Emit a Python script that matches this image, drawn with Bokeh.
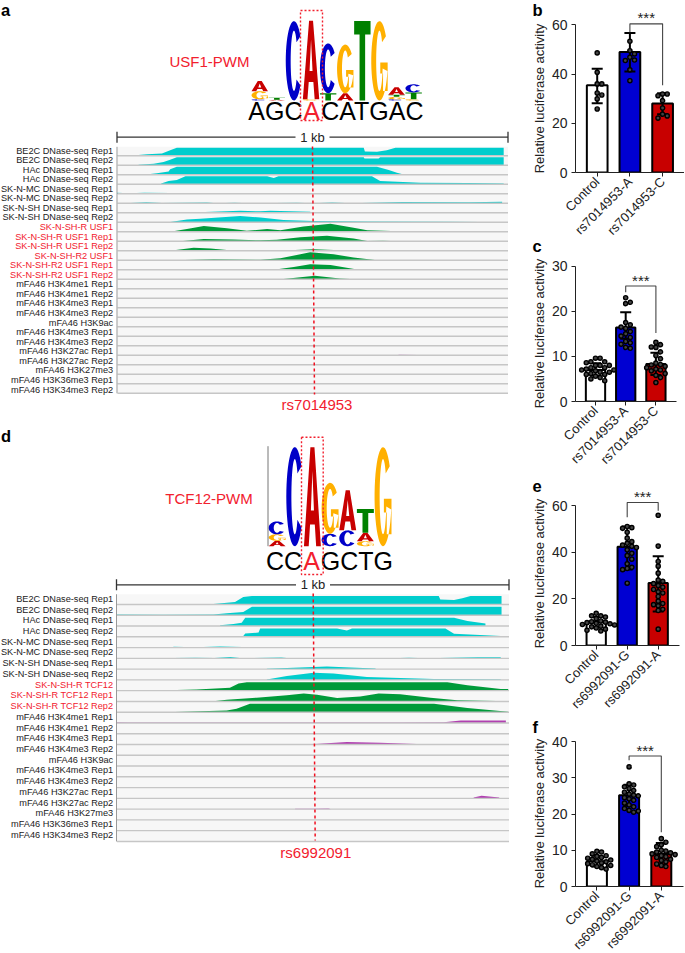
import math
from bokeh.plotting import figure
from bokeh.core.properties import value
from bokeh.embed import file_html
from bokeh.resources import INLINE

FONT = "Liberation Sans"
RED = "#f2202e"
TEAL = "#00cdcd"
GREEN = "#009a3a"
PURPLE = "#b040b0"
LETTER_COLORS = {"A": "#c80000", "C": "#0000c8", "G": "#ffb000", "T": "#008000"}
Y_TITLE = "Relative luciferase activity"

# ---------- sequence logos: stacks from the bottom, heights in bits ----------
USF1_LOGO = [
    [("C", .03), ("G", .2), ("A", .25)],
    [("A", .02), ("T", .05)],
    [("C", 1.96)],
    [("G", .03), ("A", 1.94)],
    [("T", .18), ("C", 1.23)],
    [("A", .18), ("G", 1.2)],
    [("T", 1.96)],
    [("G", 1.96)],
    [("C", .03), ("G", .06), ("T", .05), ("A", .19)],
    [("G", .03), ("T", .17), ("C", .2)],
]
TCF12_LOGO = [
    [("A", .11), ("G", .13), ("C", .26)],
    [("C", 2.0)],
    [("A", 2.0)],
    [("C", .25), ("G", 1.03)],
    [("C", .32), ("A", .81)],
    [("G", .1), ("A", .17), ("T", .48)],
    [("G", 2.0)],
]

# ---------- track labels ----------
A_LABELS = ["BE2C DNase-seq Rep1", "BE2C DNase-seq Rep2", "HAc DNase-seq Rep1", "HAc DNase-seq Rep2",
            "SK-N-MC DNase-seq Rep1", "SK-N-MC DNase-seq Rep2", "SK-N-SH DNase-seq Rep1", "SK-N-SH DNase-seq Rep2",
            "SK-N-SH-R USF1", "SK-N-SH-R USF1 Rep1", "SK-N-SH-R USF1 Rep2", "SK-N-SH-R2 USF1",
            "SK-N-SH-R2 USF1 Rep1", "SK-N-SH-R2 USF1 Rep2",
            "mFA46 H3K4me1 Rep1", "mFA46 H3K4me1 Rep2", "mFA46 H3K4me3 Rep1", "mFA46 H3K4me3 Rep2", "mFA46 H3K9ac",
            "mFA46 H3K4me3 Rep1", "mFA46 H3K4me3 Rep2", "mFA46 H3K27ac Rep1", "mFA46 H3K27ac Rep2", "mFA46 H3K27me3",
            "mFA46 H3K36me3 Rep1", "mFA46 H3K34me3 Rep2"]
D_LABELS = ["BE2C DNase-seq Rep1", "BE2C DNase-seq Rep2", "HAc DNase-seq Rep1", "HAc DNase-seq Rep2",
            "SK-N-MC DNase-seq Rep1", "SK-N-MC DNase-seq Rep2", "SK-N-SH DNase-seq Rep1", "SK-N-SH DNase-seq Rep2",
            "SK-N-SH-R TCF12", "SK-N-SH-R TCF12 Rep1", "SK-N-SH-R TCF12 Rep2",
            "mFA46 H3K4me1 Rep1", "mFA46 H3K4me1 Rep2", "mFA46 H3K4me3 Rep1", "mFA46 H3K4me3 Rep2", "mFA46 H3K9ac",
            "mFA46 H3K4me3 Rep1", "mFA46 H3K4me3 Rep2", "mFA46 H3K27ac Rep1", "mFA46 H3K27ac Rep2", "mFA46 H3K27me3",
            "mFA46 H3K36me3 Rep1", "mFA46 H3K34me3 Rep2"]

# ---------- track profiles: {track index: (colour name, [(bp, signal 0-1), ...])} ----------
A_TRACKS = {
    0: ("teal", [(0, .03), (55, .1), (77, .2), (115, .3), (136, .7), (153, 1), (631, 1), (634, .55), (665, .5), (690, .7), (712, 1), (989, 1)]),
    1: ("teal", [(55, .08), (94, .2), (119, .4), (136, .7), (153, 1), (631, 1), (633, .85), (669, .85), (673, 1), (989, 1)]),
    2: ("teal", [(74, .05), (102, .2), (132, .4), (136, .7), (153, 1), (665, 1), (695, .6), (716, .25), (733, .05), (793, .05), (820, .1), (870, .05), (930, .1), (985, .05)]),
    3: ("teal", [(113, .1), (132, .4), (153, .55), (175, 1), (384, 1), (401, .8), (413, 1), (652, 1), (673, .4), (776, .2), (895, .15), (989, .1)]),
    4: ("teal", [(0, .12), (30, .06), (70, .12), (136, .1), (145, .01), (480, .01), (490, .08), (510, .01), (560, .01), (570, .1), (590, .01), (830, .01), (840, .1), (900, .05), (920, .01)]),
    5: ("teal", [(0, .02), (35, .05), (75, .12), (115, .05), (230, .1), (255, .01), (300, .08), (340, .01), (460, .08), (500, .01), (550, .1), (600, .01), (730, .15), (900, .12), (985, .2)]),
    6: ("teal", [(190, .03), (315, .25), (367, .18), (392, .25), (494, .12), (497, .01)]),
    7: ("teal", [(136, .05), (179, .35), (213, .45), (315, .8), (367, .6), (426, .3), (503, .15), (640, .1), (850, .08), (930, .05)]),
    8: ("green", [(136, .02), (179, .35), (222, .72), (281, .45), (332, .12), (384, .35), (418, .18), (477, .65), (546, 1), (605, .5), (640, .18), (742, .05), (857, .03)]),
    9: ("green", [(162, .02), (222, .3), (298, .22), (367, .12), (409, .18), (469, .5), (537, .7), (605, .35), (640, .05), (680, .06), (720, .01), (790, .05), (860, .03)]),
    10: ("green", [(141, .05), (196, .37), (239, .3), (281, .1), (358, .03), (440, .08), (503, .2), (554, .1), (631, .1), (640, .01)]),
    11: ("green", [(149, .02), (247, .12), (367, .06), (418, .25), (494, 1), (554, .75), (605, .35), (665, .02)]),
    12: ("green", [(401, .01), (452, .35), (494, .7), (546, .6), (614, .05)]),
    13: ("green", [(170, .05), (341, .05), (345, .01), (422, .02), (426, .05), (506, .45), (570, .1), (596, .03)]),
    14: ("purple", [(644, .03), (700, .1), (921, .1), (980, .03)]),
    16: ("purple", [(315, .03), (409, .08), (494, .1), (529, .05), (592, .03)]),
    21: ("purple", [(720, .06), (770, .05), (818, .04), (830, .01), (904, .01), (910, .05), (921, .01)]),
}
D_TRACKS = {
    0: ("teal", [(145, .02), (247, .05), (302, .3), (323, .9), (345, 1), (821, 1), (825, .6), (860, .55), (881, .75), (902, 1), (981, 1)]),
    1: ("teal", [(0, .08), (119, .05), (247, .08), (281, .25), (323, .4), (345, 1), (981, 1)]),
    2: ("teal", [(264, .1), (298, .25), (319, .4), (328, 1), (860, 1), (894, .6), (940, .3)]),
    3: ("teal", [(0, .02), (323, .1), (328, .4), (362, .5), (366, 1), (562, 1), (587, .75), (600, 1), (838, 1), (860, .35), (979, .1)]),
    4: ("teal", [(145, .1), (200, .05), (264, .12), (320, .08), (335, .01), (760, .01), (770, .07), (810, .01), (900, .05), (979, .05)]),
    5: ("teal", [(145, .03), (200, .08), (250, .05), (290, .15), (320, .01), (420, .1), (440, .01), (610, .05), (700, .01), (745, .08), (790, .01), (920, .12), (979, .12)]),
    6: ("teal", [(383, .05), (536, .3), (596, .2), (660, .08)]),
    7: ("teal", [(383, .05), (434, .45), (502, .85), (553, .75), (638, .35), (809, .12), (979, .05)]),
    8: ("green", [(0, .02), (128, .05), (204, .15), (289, .35), (311, .85), (332, 1), (843, 1), (894, .65), (979, .2), (998, .2)]),
    9: ("green", [(247, .02), (281, .2), (357, .45), (434, .75), (477, .95), (511, .8), (562, .4), (621, .6), (668, .95), (723, .85), (800, .45), (868, .15), (1000, .03)]),
    10: ("green", [(149, .03), (213, .1), (281, .2), (306, .4), (340, 1), (809, 1), (894, .5), (998, .05)]),
    11: ("purple", [(0, .1), (30, .05), (680, .05), (720, .05), (834, .1), (877, .3), (992, .3)]),
    12: ("purple", [(155, .05), (165, .01), (220, .1), (245, .01), (920, .08), (1000, .05)]),
    13: ("purple", [(506, .05), (587, .3), (672, .2), (783, .03)]),
    18: ("purple", [(910, .1), (930, .3), (975, .1)]),
    19: ("purple", [(455, .05), (500, .05), (540, .08), (545, .01)]),
}

# ---------- bar charts ----------
B_CATS = ["Control", "rs7014953-A", "rs7014953-C"]
B_MEAN = [35.5, 49, 28]
B_LOW = [28.1, 41, 23.7]
B_HIGH = [42.2, 56.7, 32.2]
B_POINTS = [
    [48.6, 40.7, 36, 36, 32.3, 31.5, 29.9, 25.8],
    [53.3, 49.5, 48.2, 46.8, 45.7, 45.5, 41.7, 37.3],
    [31.9, 31.9, 31.2, 29.2, 26.2, 23.7, 23, 22.1],
]
B_BRACKET = (60.4, 57, 35.5)

C_CATS = B_CATS
C_MEAN = [7, 16.4, 8.3]
C_LOW = [5.7, 13.9, 5.9]
C_HIGH = [8.5, 19.8, 10.8]
C_POINTS = [
    [9.6, 9.6, 8.8, 8.8, 8.6, 8, 8, 8, 7.5, 7.5, 7.2, 7, 7, 6.8, 6.5, 6.5, 6.2, 6, 6, 5.6, 5.3, 5, 4.6],
    [23, 22, 21.7, 17.5, 17, 16.5, 16.2, 15.5, 15, 14.5, 14.2, 13.3, 13, 12.7, 12, 11.8],
    [13.1, 12.6, 12.1, 12, 11, 10.2, 9.5, 8.5, 8.2, 8.1, 7.8, 7.5, 7.2, 7, 6.8, 6.2, 5.8, 5.3, 4.2],
]
C_BRACKET = (25.6, 24.2, 15.2)

E_CATS = ["Control", "rs6992091-G", "rs6992091-A"]
E_MEAN = [10, 42.3, 26.8]
E_LOW = [7.8, 32.6, 14.6]
E_HIGH = [12.2, 51, 38.3]
E_POINTS = [
    [13.8, 12.7, 12.7, 12.2, 11.5, 10.5, 10.2, 10, 9.8, 9.5, 9.3, 9, 8.8, 8.3, 8, 7.5, 7, 6.5, 6.2],
    [51, 50.5, 50.2, 48.5, 46, 44.5, 43.8, 43, 42.5, 42, 41, 39.5, 38.5, 37, 35, 33.5, 33, 32.5, 26.7],
    [55.8, 42.6, 36, 34, 31, 28, 27.5, 26.5, 25.7, 25, 24, 23, 22.5, 21, 19, 18, 17.5, 17, 15.5, 15, 7],
]
E_BRACKET = (61.3, 55, 57.8)

F_CATS = E_CATS
F_MEAN = [7, 25.2, 9]
F_LOW = [5.5, 22.3, 6]
F_HIGH = [8.5, 28.1, 12]
F_POINTS = [
    [9.7, 9.5, 9, 8.5, 8.3, 8, 7.8, 7.5, 7.3, 7, 6.8, 6.5, 6.3, 6, 5.8, 5.5, 5.2, 4.8],
    [33, 28.3, 28, 27.5, 27, 26.5, 26, 25.5, 25.2, 25, 24.5, 24.2, 23.8, 23, 22.5, 22, 21.5, 21, 20.8, 20.5],
    [13.2, 12.2, 11.5, 11, 10, 9.8, 9.5, 9.3, 9, 8.8, 8.5, 8.2, 8, 7.5, 7.2, 6.8, 6.2, 5.8, 5.5],
]
F_BRACKET = (36, 34.8, 15)

BAR_COLORS = ["white", "#0000d2", "#c80000"]


# ---------- logo letter outlines in a unit box ----------
def arc(rx, ry, a0, a1, n=40):
    return [(.5 + rx * math.cos(math.radians(a0 + (a1 - a0) * i / n)),
             .5 + ry * math.sin(math.radians(a0 + (a1 - a0) * i / n))) for i in range(n + 1)]


def letter_parts(ch):
    if ch == "A":
        return [[[(0, 0), (.28, 0), (.36, .22), (.64, .22), (.72, 0), (1, 0), (.62, 1), (.38, 1)],
                 [(.41, .36), (.59, .36), (.5, .76)]]]
    if ch == "T":
        return [[[(0, 1), (1, 1), (1, .83), (.67, .83), (.67, 0), (.33, 0), (.33, .83), (0, .83)]]]
    if ch == "C":
        return [[arc(.5, .5, 38, 322) + arc(.2, .38, 322, 38)]]
    # G
    return [[arc(.5, .5, 38, 345) + arc(.2, .38, 345, 38)],
            [[(.55, .48), (1, .48), (1, .12), (.72, .12), (.72, .34), (.55, .34)]]]


def draw_logo(p, logo, x0, col_w, y_base, px_per_bit):
    xs, ys, colors = [], [], []
    for c, stack in enumerate(logo):
        y = y_base
        for ch, bits in stack:
            h = bits * px_per_bit
            mx, my = [], []
            for part in letter_parts(ch):
                mx.append([[x0 + (c + .02 + .96 * u) * col_w for u, _ in ring] for ring in part])
                my.append([[y - v * h for _, v in ring] for ring in part])
            xs.append(mx)
            ys.append(my)
            colors.append(LETTER_COLORS[ch])
            y -= h
    p.multi_polygons(xs, ys, fill_color=colors, line_color=None)


def txt(p, x, y, s, size, color="#222222", align="center", baseline="middle", style="normal", angle=0):
    p.text([x], [y], text=[s], text_font=value(FONT), text_font_size=f"{size}px", text_color=color,
           text_align=align, text_baseline=baseline, text_font_style=style, angle=angle)


def place(left, top):
    return {"position": "absolute", "left": f"{left}px", "top": f"{top}px"}


def genome_panel(y_top, height, labels, tracks, logo, logo_x0, logo_col, logo_base, logo_pxbit, name, name_xc, name_y,
                 seq, seq_y, seq_size, box, scale_y, scale_text_x, first_base, step, track_h, x_left, x_right,
                 label_first, label_step, dash, snp, snp_x, snp_y):
    p = figure(width=685, height=height, x_range=(0, 685), y_range=(y_top + height, y_top),
               toolbar_location=None, output_backend="svg", min_border=0, outline_line_color=None,
               styles=place(0, y_top))
    p.axis.visible = False
    p.grid.visible = False

    draw_logo(p, logo, logo_x0, logo_col, logo_base, logo_pxbit)
    txt(p, name_xc, name_y, name, 15, RED)

    # consensus sequence, with the SNP base in red
    txt(p, seq[1], seq_y, seq[0], seq_size, "black", "right")
    txt(p, seq[2], seq_y, "A", seq_size, RED, "center")
    txt(p, seq[3], seq_y, seq[4], seq_size, "black", "left")

    bx0, bx1, by0, by1 = box
    p.line([bx0, bx1, bx1, bx0, bx0], [by0, by0, by1, by1, by0], line_color=RED, line_width=1.4, line_dash="2 2")

    # scale bar
    for xa, xb in ((x_left, scale_text_x - 17), (scale_text_x + 17, x_right)):
        p.line([xa, xb], [scale_y, scale_y], line_color="#333333", line_width=1.3)
    for xa in (x_left, x_right):
        p.line([xa, xa], [scale_y - 5.5, scale_y + 5.5], line_color="#333333", line_width=1.3)
    txt(p, scale_text_x, scale_y, "1 kb", 13)

    # tracks
    n = len(labels)
    bases = [first_base + i * step for i in range(n)]
    top = first_base - step + .5
    p.quad(left=[x_left + .5], right=[x_right], top=[top], bottom=[bases[-1]], fill_color="#f7f7f7", line_color=None)
    colors = {"teal": TEAL, "green": GREEN, "purple": PURPLE}
    for i, (cname, prof) in tracks.items():
        xs = [x_left + b / 1000 * (x_right - x_left) for b, _ in prof]
        ys = [bases[i] - s * track_h for _, s in prof]
        p.patch([xs[0]] + xs + [xs[-1]], [bases[i]] + ys + [bases[i]], fill_color=colors[cname], line_color=None)
    for b in bases:
        p.line([x_left + .5, x_right], [b, b], line_color="#c6c6c6", line_width=1.4)
    p.line([x_left, x_left], [top, bases[-1]], line_color="#999999", line_width=1)

    for i, lab in enumerate(labels):
        col = RED if "USF1" in lab or "TCF12" in lab else "#222222"
        txt(p, 112.7, label_first + i * label_step, lab, 9.2, col, "right")

    p.line([dash[0], dash[2]], [dash[1], dash[3]], line_color="#f01020", line_width=1.5, line_dash="3 3")
    txt(p, snp_x, snp_y, snp, 15, RED)
    return p


def swarm(vals, px_per_val, px_per_cat, d=4.6):
    placed, out = [], []
    for v in vals:
        py = v * px_per_val
        k = 0
        while True:
            off = ((k + 1) // 2) * (1 if k % 2 else -1) * d
            if all((off - ox) ** 2 + (py - oy) ** 2 >= d ** 2 for ox, oy in placed):
                break
            k += 1
        placed.append((off, py))
        out.append(off / px_per_cat)
    return out


def bar_panel(y0_px, ymax_px, ymax, ticks, x0_px, spacing, bar_px, axis_end_px, cats, mean, low, high,
              points, bracket, star_y_px, top_px):
    left = 55
    fig_left = 520.3
    axis_x = fig_left + left
    scale = (y0_px - ymax_px) / ymax
    x_start = -(x0_px - axis_x) / spacing
    frame_w = 685 - axis_x
    y_end = (y0_px - top_px) / scale
    p = figure(frame_width=int(frame_w), frame_height=int(round(y0_px - top_px)), x_range=(x_start, x_start + int(frame_w) / spacing),
               y_range=(0, y_end), toolbar_location=None, output_backend="svg", min_border_left=left,
               min_border_right=0, min_border_top=0, min_border_bottom=10, outline_line_color=None,
               border_fill_alpha=0, background_fill_alpha=0, styles=place(fig_left, top_px))
    p.grid.visible = False
    xs = list(range(len(cats)))
    p.vbar(x=xs, top=mean, width=(bar_px - 2) / spacing, fill_color=BAR_COLORS, line_color="black", line_width=2)
    cap = 5.5 / spacing
    p.segment(xs, low, xs, high, line_color="black", line_width=2)
    p.segment([x - cap for x in xs], high, [x + cap for x in xs], high, line_color="black", line_width=2)
    p.segment([x - cap for x in xs], low, [x + cap for x in xs], low, line_color="black", line_width=2)
    for x, vals in zip(xs, points):
        off = swarm(vals, scale, spacing)
        p.scatter([x + o for o in off], vals, size=4.2, fill_color="#444444", line_color="black", line_width=1.4)
    ytop, yl, yr = bracket
    p.line([1, 1, 2, 2], [yl, ytop, ytop, yr], line_color="#444444", line_width=1.1)
    p.text([1.5], [(y0_px - star_y_px) / scale], text=["***"], text_font=value(FONT), text_font_size="15px",
           text_color="#222222", text_align="center", text_baseline="middle", y_offset=2)

    ax = p.yaxis[0]
    ax.ticker = ticks
    ax.bounds = (0, ymax)
    ax.major_label_text_font = FONT
    ax.major_label_text_font_size = "14px"
    ax.major_label_text_color = "#222222"
    ax.major_tick_in = 0
    ax.major_tick_out = 4
    ax.minor_tick_line_color = None
    ax.major_label_standoff = 4
    ax.axis_line_color = "#222222"
    ax.major_tick_line_color = "#222222"

    bx = p.xaxis[0]
    bx.ticker = xs
    bx.major_label_overrides = {i: c for i, c in enumerate(cats)}
    bx.bounds = (x_start, (axis_end_px - x0_px) / spacing)
    bx.major_label_orientation = math.pi / 4
    bx.major_label_text_font = FONT
    bx.major_label_text_font_size = "13px"
    bx.major_label_text_color = "#222222"
    bx.major_tick_in = 0
    bx.major_tick_out = 4
    bx.minor_tick_line_color = None
    bx.major_label_standoff = 3
    bx.axis_line_color = "#222222"
    bx.major_tick_line_color = "#222222"
    return p


pa = genome_panel(0, 425, A_LABELS, A_TRACKS, USF1_LOGO, 250.7, 17.1, 100, 40.5, "USF1-PWM", 209, 61,
                  ("AGC", 302, 311, 320.7, "CATGAC"), 110, 25, (300, 322, 10, 120), 136.7, 312, 155.3, 9.5, 8,
                  116.5, 507.5, 150, 9.56, (312, 146, 314, 394), "rs7014953", 316.5, 404)
pd_ = genome_panel(425, 528, D_LABELS, D_TRACKS, TCF12_LOGO, 267.8, 17.65, 545.7, 49.5, "TCF12-PWM", 208.5, 498.3,
                   ("CC", 301.5, 311, 320.3, "GCTG"), 560.4, 25, (301, 322.7, 436.7, 574), 584.3, 312.5, 604, 10.77, 8.4,
                   116, 508.5, 598.3, 10.73, (312.7, 593, 314.7, 840), "rs6992091", 315.3, 851.7)
pd_.line([267.5, 267.5], [445.7, 545.7], line_color="#777777", line_width=1)

for fig, letter, lx, ly in ((pa, "a", 0.5, 9), (pa, "b", 532, 9), (pa, "c", 532, 245), (pd_, "d", 0.5, 435),
                            (pd_, "e", 532, 485), (pd_, "f", 532, 726)):
    txt(fig, lx, ly, letter, 16.5, "black", "left", "middle", "bold")

for fig, ly in ((pa, 98), (pa, 333), (pd_, 573), (pd_, 813)):
    txt(fig, 538.5, ly, Y_TITLE, 13, angle=math.pi / 2)

pb = bar_panel(171.7, 24.3, 60, [0, 20, 40, 60], 597, 32.7, 22.7, 684, B_CATS, B_MEAN, B_LOW, B_HIGH, B_POINTS,
               B_BRACKET, 15, 2)
pc = bar_panel(401, 265.7, 30, [0, 10, 20, 30], 595.3, 30.2, 21.3, 676.7, C_CATS, C_MEAN, C_LOW, C_HIGH, C_POINTS,
               C_BRACKET, 277.7, 255)
pe = bar_panel(645, 505, 60, [0, 20, 40, 60], 596, 31, 21.3, 679, E_CATS, E_MEAN, E_LOW, E_HIGH, E_POINTS,
               E_BRACKET, 494, 482)
pf = bar_panel(886, 741, 40, [0, 10, 20, 30, 40], 596.7, 32.2, 22, 683, F_CATS, F_MEAN, F_LOW, F_HIGH, F_POINTS,
               F_BRACKET, 747.7, 732)

open("out.html", "w").write(file_html([pa, pd_, pb, pc, pe, pf], INLINE))
